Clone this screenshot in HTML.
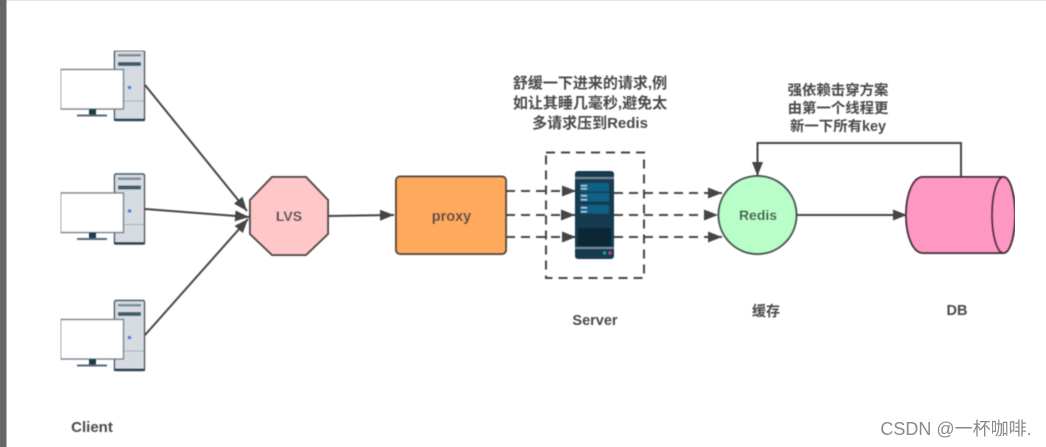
<!DOCTYPE html>
<html><head><meta charset="utf-8"><style>
html,body{margin:0;padding:0;background:#fff}
svg{display:block}
text{font-family:"Liberation Sans","Noto Sans CJK SC",sans-serif;fill:#4a4a4a;text-anchor:middle;font-size:14px}
.b{font-weight:bold}
.l{stroke:#444;stroke-width:2;fill:none}
.d{stroke:#444;stroke-width:2;fill:none;stroke-dasharray:9 6}
</style></head><body>
<svg width="1046" height="447" viewBox="0 0 1046 447" xmlns="http://www.w3.org/2000/svg">
<defs>
<marker id="a" markerUnits="userSpaceOnUse" markerWidth="16" markerHeight="12" refX="14" refY="5.500" orient="auto"><path d="M0 0L14 5.500L0 11z" fill="#444"/></marker>
<filter id="s" x="0" y="0" width="100%" height="100%"><feGaussianBlur stdDeviation="0.45"/></filter>
<g id="pc">
<rect x="114.500" y="50.500" width="30" height="70" rx="1.500" fill="#d5dbe1" stroke="#3c5060" stroke-width="1.400"/>
<rect x="114" y="118.500" width="31" height="2.500" fill="#2c4454"/>
<rect x="118" y="54" width="23" height="2.500" fill="#7b8c99"/>
<rect x="118" y="62" width="23" height="4" fill="#3e5b70"/>
<line x1="115" y1="101" x2="144" y2="101" stroke="#a4afb8"/>
<circle cx="129.500" cy="87.500" r="1.800" fill="#4a7fd0"/>
<rect x="60.500" y="69.500" width="63" height="39.500" fill="#fff" stroke="#6f7d87" stroke-width="1.400"/>
<rect x="89" y="109" width="7" height="6" fill="#1f3a4c"/>
<rect x="77" y="114.500" width="30" height="2" fill="#56697a"/>
</g>
</defs>
<rect width="1046" height="447" fill="#fff"/>
<rect x="0" y="0" width="1046" height="1" fill="#e6e6e6"/>
<rect x="0" y="0" width="6.500" height="447" fill="#666"/>
<g filter="url(#s)">
<use href="#pc"/>
<use href="#pc" y="123.500"/>
<use href="#pc" y="250"/>

<path class="l" d="M145 85L247 211" marker-end="url(#a)"/>
<path class="l" d="M145 209L249 217" marker-end="url(#a)"/>
<path class="l" d="M145 335L248 219" marker-end="url(#a)"/>

<polygon points="272,177 306,177 328,200 328,234 306,255 272,255 250,234 250,200" fill="#ffc7c7" stroke="#504a4a" stroke-width="2"/>
<text class="b" x="289" y="221">LVS</text>
<path class="l" d="M328 216L394 215" marker-end="url(#a)"/>

<rect x="396" y="176.500" width="110" height="77.500" rx="4" fill="#ffa95c" stroke="#54483c" stroke-width="2"/>
<text class="b" x="451.500" y="221" style="font-size:14.500px">proxy</text>

<rect x="546" y="152.500" width="98" height="125.500" fill="none" stroke="#444" stroke-width="2" stroke-dasharray="9 6"/>

<path class="d" d="M506 191L576 191" marker-end="url(#a)"/>
<path class="d" d="M506 215L575 215" marker-end="url(#a)"/>
<path class="d" d="M506 237L576 237" marker-end="url(#a)"/>

<rect x="575" y="171" width="39" height="88" rx="3" fill="#123a50"/>
<rect x="575" y="177" width="39" height="2" fill="#6d8794"/>
<rect x="580" y="183" width="29" height="8.500" fill="#0f6186"/>
<rect x="580" y="193" width="29" height="8.500" fill="#0f6186"/>
<rect x="580" y="205" width="29" height="8.500" fill="#0f6186"/>
<rect x="581" y="185" width="6" height="1.500" fill="#a9c6d4"/>
<rect x="581" y="188" width="6" height="1.500" fill="#a9c6d4"/>
<rect x="581" y="195" width="6" height="1.500" fill="#a9c6d4"/>
<rect x="581" y="199" width="6" height="1.500" fill="#a9c6d4"/>
<rect x="581" y="207" width="6" height="1.500" fill="#a9c6d4"/>
<rect x="581" y="211" width="6" height="1.500" fill="#a9c6d4"/>
<rect x="578" y="228" width="33" height="18" fill="#0a2535"/>
<rect x="575" y="247" width="39" height="2" fill="#6d8794"/>
<circle cx="604.500" cy="253" r="1.700" fill="#1c9c86"/>
<circle cx="610" cy="253" r="1.700" fill="#a8447a"/>

<path class="d" d="M614 193L722 193" marker-end="url(#a)"/>
<path class="d" d="M614 215L718 215" marker-end="url(#a)"/>
<path class="d" d="M614 237L722 237" marker-end="url(#a)"/>

<circle cx="757.500" cy="215" r="39" fill="#b9fdc9" stroke="#46534b" stroke-width="2"/>
<text class="b" x="758" y="220" style="fill:#3f5547">Redis</text>
<path class="l" d="M797 215L907 215" marker-end="url(#a)"/>

<path d="M923 177H1003C1010 177 1015 194 1015 215C1015 236 1010 253 1003 253H923C913 253 906 236 906 215C906 194 913 177 923 177Z" fill="#ff97c3" stroke="#44323a" stroke-width="2"/>
<ellipse cx="1003.500" cy="215" rx="11.500" ry="38" fill="#ff97c3" stroke="#44323a" stroke-width="2"/>
<path class="l" d="M961 177V143H757.500V176" marker-end="url(#a)"/>

<text class="b" x="590" y="88" style="font-size:15px">舒缓一下进来的请求,例</text>
<text class="b" x="590" y="108" style="font-size:15px">如让其睡几毫秒,避免太</text>
<text class="b" x="590" y="128" style="font-size:15px">多请求压到Redis</text>
<text class="b" x="838" y="95" style="font-size:14.400px">强依赖击穿方案</text>
<text class="b" x="838" y="113" style="font-size:14.400px">由第一个线程更</text>
<text class="b" x="838" y="131" style="font-size:14.400px">新一下所有key</text>
<text class="b" x="92" y="432" style="font-size:15px">Client</text>
<text class="b" x="595" y="325" style="font-size:14.500px">Server</text>
<text class="b" x="766" y="316">缓存</text>
<text class="b" x="957" y="315" style="font-size:14.500px">DB</text>
</g>
<text x="956" y="435" style="font-size:18px;fill:#8a8a8a;font-weight:normal">CSDN @一杯咖啡.</text>
</svg>
</body></html>
